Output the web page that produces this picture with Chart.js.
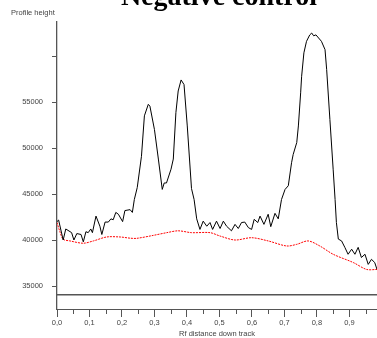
<!DOCTYPE html>
<html>
<head>
<meta charset="utf-8">
<script src="https://cdn.jsdelivr.net/npm/chart.js@4"></script>
<style>
  body { margin: 0; background: #fff; }
</style>
</head>
<body>
<canvas id="myChart" width="377" height="338"></canvas>
<script>
//Data
const sampleRf = [0.000,0.005,0.019,0.027,0.045,0.052,0.061,0.074,0.081,0.089,0.096,0.104,0.109,0.120,0.132,0.138,0.148,0.158,0.166,0.173,0.181,0.189,0.202,0.209,0.225,0.232,0.238,0.247,0.260,0.269,0.281,0.286,0.300,0.312,0.324,0.330,0.337,0.351,0.358,0.366,0.373,0.382,0.391,0.401,0.414,0.422,0.430,0.440,0.450,0.461,0.471,0.479,0.491,0.502,0.512,0.522,0.537,0.548,0.558,0.568,0.578,0.589,0.599,0.607,0.618,0.625,0.637,0.650,0.658,0.671,0.681,0.691,0.702,0.712,0.722,0.727,0.738,0.743,0.750,0.753,0.760,0.768,0.778,0.784,0.790,0.797,0.814,0.825,0.830,0.840,0.850,0.856,0.860,0.866,0.876,0.886,0.896,0.907,0.917,0.927,0.937,0.948,0.958,0.968,0.978,0.985];
const sampleHeight = [42000,42170,40000,41200,40800,40000,40700,40600,39800,40900,40800,41200,40800,42600,41500,40600,41950,41950,42300,42200,43000,42800,42000,43200,43300,43000,44400,45700,49100,53500,54750,54550,52000,48800,45500,46200,46200,47700,48800,53850,56200,57400,56900,52400,45600,44400,42300,41150,42050,41500,41900,41150,42050,41250,42050,41500,41000,41700,41250,41900,41950,41350,41150,42250,41900,42600,41700,42800,41450,42900,42300,44400,45500,45900,48400,49300,50600,52400,56000,57800,60350,61600,62300,62500,62200,62300,61600,60700,58550,53100,47700,44400,41900,40100,39900,39200,38450,39000,38450,39200,38100,38450,37350,37900,37550,36800];

const baselineRf = [0.000,0.010,0.019,0.040,0.081,0.112,0.153,0.194,0.225,0.245,0.296,0.338,0.373,0.414,0.471,0.502,0.548,0.599,0.650,0.707,0.738,0.773,0.809,0.850,0.912,0.953,0.985];
const baselineHeight = [41900,40800,40080,39900,39650,39900,40330,40330,40200,40180,40500,40800,41000,40800,40800,40430,40000,40250,39900,39350,39530,39900,39350,38450,37550,36800,36800];

const refLineRf = [0, 0.985];
const refLineHeight = [34050, 34050];

const xMajorTicks = [0,0.1,0.2,0.3,0.4,0.5,0.6,0.7,0.8,0.9];
const xMinorTicks = [0.05,0.15,0.25,0.35,0.45,0.55,0.65,0.75,0.85,0.95];
const yTickValues = [35000,40000,45000,50000,55000,60000];
const yLabelled = [35000,40000,45000,50000,55000];

function toPoints(xs, ys) {
  return xs.map((x, i) => ({x: x, y: ys[i]}));
}

//Titles and minor ticks drawn by hand
const extrasPlugin = {
  id: 'extras',
  afterDraw(chart) {
    const c = chart.ctx;
    const xs = chart.scales.x;
    c.save();
    c.strokeStyle = '#555';
    c.lineWidth = 1;
    xMinorTicks.forEach(v => {
      const px = Math.round(xs.getPixelForValue(v)) + 0.5;
      c.beginPath();
      c.moveTo(px, xs.top);
      c.lineTo(px, xs.top + 5);
      c.stroke();
    });
    c.fillStyle = '#000';
    c.font = 'bold 28px "Liberation Serif"';
    c.textAlign = 'center';
    c.textBaseline = 'alphabetic';
    c.fillText('Negative control', 219, 5);
    c.fillStyle = '#444';
    c.font = '7.5px "Liberation Sans"';
    c.textAlign = 'left';
    c.textBaseline = 'middle';
    c.fillText('Profile height', 11, 13);
    c.restore();
  }
};

let myChart = document.getElementById('myChart').getContext('2d');

let profileChart = new Chart(myChart, {
  type: 'line',
  data: {
    datasets: [{
      label: 'Sample',
      data: toPoints(sampleRf, sampleHeight),
      borderColor: '#000',
      borderWidth: 1,
      pointRadius: 0,
      tension: 0
    }, {
      label: 'Baseline',
      data: toPoints(baselineRf, baselineHeight),
      borderColor: '#ff0000',
      borderWidth: 1,
      borderDash: [2, 1],
      pointRadius: 0,
      tension: 0.3
    }, {
      label: 'Reference',
      data: toPoints(refLineRf, refLineHeight),
      borderColor: '#555',
      borderWidth: 1.3,
      pointRadius: 0
    }]
  },
  options: {
    responsive: false,
    animation: false,
    layout: { padding: { top: 22, right: 0, left: 0, bottom: 0 } },
    plugins: {
      legend: { display: false },
      title: { display: false },
      tooltip: { enabled: false }
    },
    scales: {
      x: {
        type: 'linear',
        min: 0,
        max: 0.985,
        afterBuildTicks: s => { s.ticks = xMajorTicks.map(v => ({value: v})); },
        afterFit: s => { s.height = 29; },
        grid: { drawOnChartArea: false, drawTicks: true, tickLength: 8, color: '#555' },
        border: { display: true, color: '#555', width: 1 },
        ticks: {
          autoSkip: false,
          maxRotation: 0,
          padding: 1,
          color: '#444',
          font: { family: 'Liberation Sans', size: 7.5 },
          callback: v => v.toFixed(1).replace('.', ',')
        },
        title: {
          display: true,
          text: 'Rf distance down track',
          color: '#444',
          font: { family: 'Liberation Sans', size: 7.5 },
          padding: { top: 0, bottom: 0 }
        }
      },
      y: {
        min: 32500,
        max: 63700,
        afterBuildTicks: s => { s.ticks = yTickValues.map(v => ({value: v})); },
        afterFit: s => { s.width = 57; },
        grid: { drawOnChartArea: false, drawTicks: true, tickLength: 5, color: '#555' },
        border: { display: true, color: '#555', width: 1.3 },
        ticks: {
          padding: 9,
          color: '#444',
          font: { family: 'Liberation Sans', size: 7.5 },
          callback: v => yLabelled.includes(v) ? String(v) : ''
        }
      }
    }
  },
  plugins: [extrasPlugin]
});
</script>
</body>
</html>
